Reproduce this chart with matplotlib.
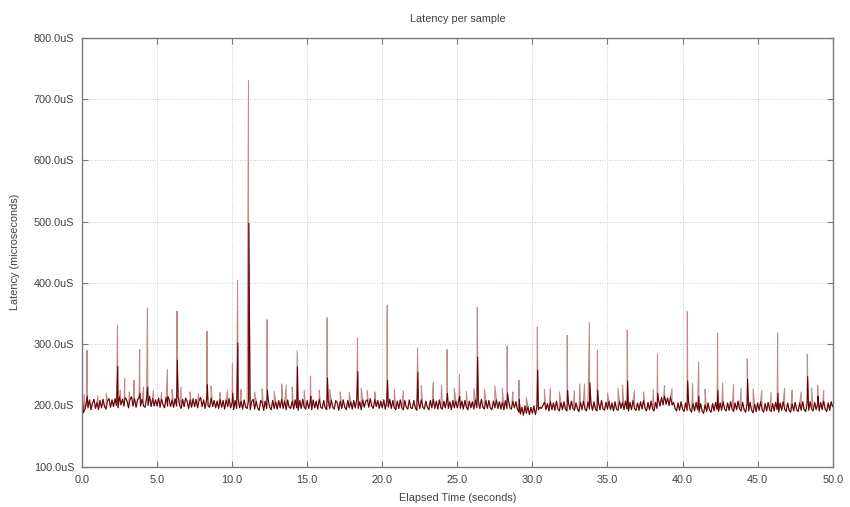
import matplotlib
matplotlib.use("Agg")
import matplotlib.pyplot as plt
from matplotlib.ticker import FuncFormatter, MultipleLocator

# Baseline latency (uS), one sample every 0.1 s
base_step = 0.1
base_values = [
    214, 188, 194, 206, 196, 209, 193, 204, 210, 195,
    205, 193, 208, 196, 210, 198, 194, 207, 211, 197,
    209, 198, 211, 200, 196, 214, 201, 210, 199, 212,
    207, 196, 210, 214, 199, 211, 197, 209, 213, 199,
    210, 199, 197, 212, 200, 215, 198, 211, 199, 209,
    199, 212, 197, 210, 201, 196, 213, 199, 210, 198,
    209, 197, 211, 199, 214, 200, 195, 210, 198, 212,
    207, 195, 209, 197, 211, 198, 210, 196, 208, 213,
    198, 209, 195, 210, 199, 197, 212, 198, 208, 196,
    207, 195, 210, 197, 208, 194, 209, 198, 211, 196,
    205, 193, 208, 195, 210, 196, 207, 194, 209, 197,
    195, 208, 193, 206, 210, 194, 207, 196, 192, 208,
    204, 192, 207, 195, 209, 197, 193, 208, 195, 206,
    194, 208, 196, 210, 195, 207, 193, 209, 197, 195,
    207, 194, 209, 196, 192, 208, 195, 210, 197, 194,
    208, 195, 206, 193, 209, 196, 207, 194, 210, 197,
    195, 208, 196, 193, 207, 195, 209, 197, 194, 208,
    204, 192, 207, 195, 209, 197, 193, 208, 196, 206,
    194, 208, 196, 210, 195, 206, 193, 209, 197, 207,
    209, 197, 211, 199, 195, 210, 198, 208, 195, 207,
    196, 209, 194, 207, 197, 210, 195, 208, 196, 193,
    207, 195, 209, 196, 193, 208, 197, 194, 209, 196,
    195, 208, 196, 192, 207, 195, 209, 197, 194, 207,
    197, 193, 208, 196, 210, 195, 207, 194, 209, 196,
    194, 207, 196, 209, 195, 206, 193, 208, 196, 207,
    196, 209, 195, 207, 194, 208, 197, 193, 207, 196,
    206, 194, 209, 196, 207, 195, 210, 197, 194, 208,
    195, 208, 196, 193, 207, 196, 209, 195, 206, 194,
    205, 193, 208, 195, 209, 196, 194, 207, 196, 206,
    194, 189, 186, 197, 184, 199, 187, 198, 185, 197,
    187, 199, 185, 198, 193, 197, 195, 200, 205, 193,
    203, 191, 206, 193, 204, 192, 207, 194, 191, 205,
    193, 206, 194, 191, 205, 193, 207, 195, 192, 204,
    194, 190, 205, 193, 207, 194, 191, 206, 194, 204,
    192, 206, 194, 191, 205, 193, 208, 195, 192, 205,
    194, 207, 193, 204, 191, 206, 194, 192, 207, 195,
    205, 193, 207, 194, 191, 205, 193, 208, 195, 192,
    204, 192, 206, 194, 208, 195, 191, 205, 193, 207,
    194, 191, 205, 195, 209, 199, 213, 201, 215, 202,
    212, 200, 214, 201, 205, 195, 191, 204, 192, 206,
    194, 190, 204, 192, 206, 193, 189, 203, 191, 205,
    193, 189, 203, 191, 187, 201, 190, 204, 192, 189,
    203, 191, 205, 193, 190, 204, 192, 206, 194, 191,
    204, 192, 206, 194, 190, 204, 193, 207, 194, 191,
    205, 193, 189, 203, 191, 205, 192, 188, 202, 190,
    204, 192, 206, 193, 189, 203, 191, 205, 193, 190,
    203, 191, 205, 193, 189, 204, 192, 206, 194, 190,
    204, 192, 189, 203, 191, 205, 193, 190, 204, 192,
    206, 193, 190, 204, 192, 206, 194, 191, 205, 193,
    203, 191, 205, 193, 207, 194, 190, 204, 192, 206,
    198,
]

# Large spikes: time (s), peak (uS)
spike_times = [0.33, 2.36, 2.84, 3.47, 3.84, 4.36, 5.69, 6.33, 8.33, 10.02,
               10.36, 11.09, 12.33, 14.33, 15.22, 16.33, 18.35, 20.33, 22.35,
               24.32, 25.14, 26.33, 28.32, 29.1, 30.33, 32.32, 33.8, 34.33,
               36.32, 38.33, 40.32, 41.07, 42.33, 44.31, 46.33, 48.31, 49.0]
spike_peaks = [290, 331, 244, 241, 291, 359, 259, 354, 321, 268,
               404, 730, 340, 289, 248, 343, 310, 363, 294,
               291, 250, 360, 297, 241, 328, 314, 335, 290,
               323, 284, 353, 271, 318, 276, 318, 283, 233]
# Secondary (denser) part of each spike
spike_shoulders = [215, 264, 212, 210, 220, 230, 215, 274, 234, 220,
                   302, 497, 225, 263, 215, 245, 255, 241, 254,
                   220, 215, 279, 220, 210, 258, 225, 237, 225,
                   240, 220, 240, 215, 225, 243, 220, 247, 215]

# Small spikes: time (s), peak (uS)
small_times = [0.15, 1.05, 1.62, 2.55, 3.15, 4.1, 4.75, 5.3, 6.0, 6.6, 7.2,
               7.75, 8.6, 9.2, 9.7, 10.6, 11.5, 12.0, 12.8, 13.3, 13.6, 14.0,
               14.8, 15.8, 16.5, 17.2, 17.8, 18.6, 19.0, 19.5, 20.8, 21.4,
               22.6, 23.4, 23.95, 24.8, 25.6, 26.1, 26.8, 27.5, 28.0, 28.7,
               29.6, 30.8, 31.2, 31.8, 32.8, 33.15, 33.47, 35.0, 35.7, 36.0,
               36.8, 37.4, 38.05, 38.8, 39.3, 40.67, 41.5, 42.67, 43.4, 43.9,
               44.7, 45.27, 45.9, 46.8, 47.3, 47.9, 48.6, 49.4]
small_peaks = [218, 216, 220, 225, 222, 230, 224, 221, 226, 230, 222,
               219, 232, 221, 224, 226, 222, 227, 223, 235, 233, 230,
               225, 225, 226, 222, 221, 228, 224, 222, 226, 224,
               232, 237, 233, 228, 223, 227, 226, 232, 228, 222,
               213, 226, 228, 222, 224, 235, 235, 220, 228, 233,
               224, 222, 226, 232, 227, 236, 226, 237, 234, 228,
               227, 224, 221, 228, 225, 222, 229, 224]

# All samples (pale layer) and the dense part (dark layer)
all_samples = [(i * base_step, v) for i, v in enumerate(base_values)]
dense_samples = list(all_samples)
for t, p, s in zip(spike_times, spike_peaks, spike_shoulders):
    all_samples.append((t, p))
    all_samples.append((t + 0.02, s))
    dense_samples.append((t + 0.02, s))
for t, p in zip(small_times, small_peaks):
    all_samples.append((t, p))
all_samples.sort(key=lambda q: q[0])
dense_samples.sort(key=lambda q: q[0])

plt.rcParams['font.family'] = ['Liberation Sans', 'DejaVu Sans']
text_color = '#404040'

fig = plt.figure(figsize=(8.5, 5.07), dpi=100)
ax = fig.add_axes([82 / 850, 1 - 466.7 / 507, (832.7 - 82) / 850, (466.7 - 37.7) / 507])

ax.plot([q[0] for q in all_samples], [q[1] for q in all_samples],
        color='#c38a8a', lw=0.8)
ax.plot([q[0] for q in dense_samples], [q[1] for q in dense_samples],
        color='#650000', lw=0.75)

ax.set_xlim(0, 50)
ax.set_ylim(100, 800)
ax.xaxis.set_major_locator(MultipleLocator(5))
ax.yaxis.set_major_locator(MultipleLocator(100))
ax.xaxis.set_major_formatter(FuncFormatter(lambda v, p: f"{v:.1f}"))
ax.yaxis.set_major_formatter(FuncFormatter(lambda v, p: f"{v:.1f}uS"))

ax.grid(True, color='#b8b8b8', linestyle=(0, (1, 2)), linewidth=0.6)
ax.set_axisbelow(True)
for sp in ax.spines.values():
    sp.set_color('#7a7a7a')
    sp.set_linewidth(1.0)
ax.tick_params(direction='in', length=4, width=0.8, color='#7a7a7a',
               top=True, right=True, labelsize=7.8, labelcolor=text_color)
ax.tick_params(axis='x', pad=6)
ax.tick_params(axis='y', pad=5.5)

ax.set_xlabel('Elapsed Time (seconds)', fontsize=7.8, color=text_color, labelpad=6)
ax.set_ylabel('Latency (microseconds)', fontsize=7.8, color=text_color, labelpad=10)
ax.set_title('Latency per sample', fontsize=7.8, color=text_color, pad=11)

fig.savefig('out.png', dpi=100)
